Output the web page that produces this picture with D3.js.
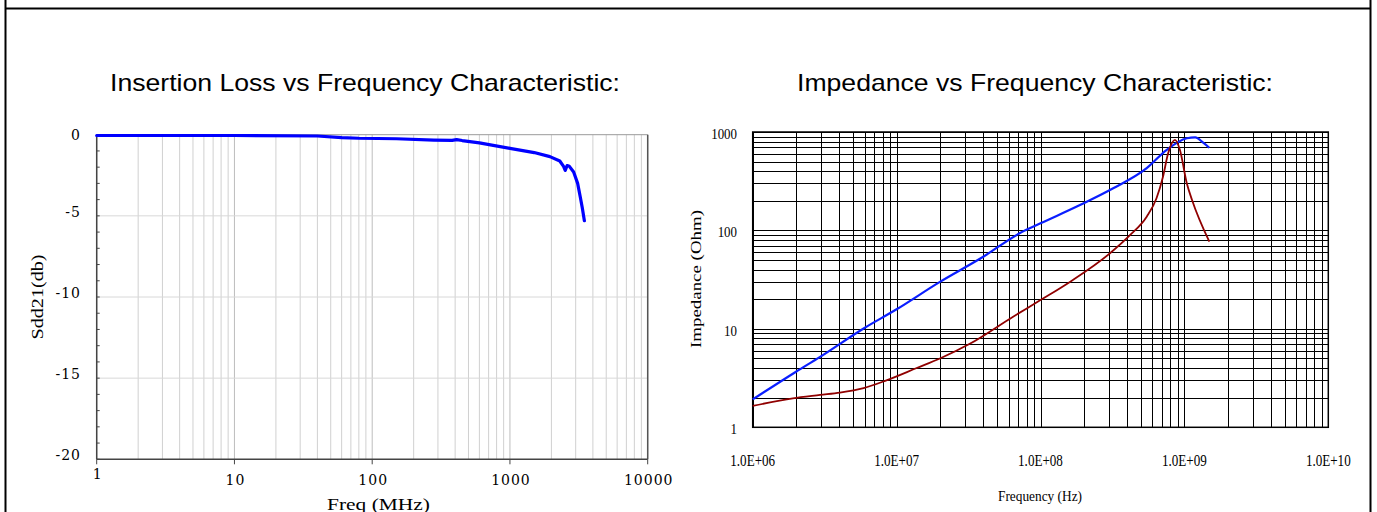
<!DOCTYPE html>
<html>
<head>
<meta charset="utf-8">
<script src="https://cdn.jsdelivr.net/npm/d3@7"></script>
<style>
  body { margin: 0; background: #fff; }
  svg { display: block; }
</style>
</head>
<body>
<script>
// insertion loss (left chart)
var lossFreq = [1, 10, 40, 60, 80, 150, 280, 380, 410, 450, 600, 1000, 1500, 1950, 2300, 2450, 2520, 2600, 2700, 2900, 3100, 3250, 3350, 3470];
var lossDb = [-0.05, -0.05, -0.08, -0.18, -0.22, -0.25, -0.33, -0.35, -0.3, -0.36, -0.5, -0.84, -1.1, -1.35, -1.62, -1.95, -2.2, -1.9, -1.95, -2.3, -3.0, -3.9, -4.5, -5.3];
var lossXTicks = [1, 10, 100, 1000, 10000];
var lossYTicks = [0, -5, -10, -15, -20];

// impedance (right chart)
var zFreq = [1e6, 2e6, 2.94e6, 5.9e6, 1e7, 2e7, 4e7, 7.2e7, 1e8, 1.88e8, 3.2e8, 5.47e8, 7.5e8, 1.04e9, 1.19e9, 1.35e9, 1.49e9];
var zOhm = [1.92, 3.67, 5.2, 10.1, 15.8, 30, 54, 94, 118, 181, 268, 429, 656, 863, 883, 780, 692];
var rFreq = [1e6, 1.9e6, 2.94e6, 4.04e6, 5.9e6, 8.5e6, 1.38e7, 2e7, 3.25e7, 6.45e7, 1e8, 1.6e8, 3.04e8, 4.2e8, 5.47e8, 6.4e8, 7.1e8, 7.7e8, 8.6e8, 9.3e8, 1.04e9, 1.13e9, 1.49e9];
var rOhm = [1.65, 1.97, 2.13, 2.25, 2.5, 3.0, 4.0, 5.0, 7.1, 13.3, 19.6, 30, 58.6, 90, 138, 212, 351, 603, 830, 660, 300, 204, 77];
var zXTicks = [1e6, 1e7, 1e8, 1e9, 1e10];
var zXLabels = ["1.0E+06", "1.0E+07", "1.0E+08", "1.0E+09", "1.0E+10"];
var zYTicks = [1, 10, 100, 1000];

var svg = d3.select("body")
    .append("svg")
    .attr("width", 1377)
    .attr("height", 512);

// page frame
svg.append("line").attr("x1", 5.5).attr("x2", 5.5).attr("y1", 0).attr("y2", 512)
    .attr("stroke", "#000").attr("stroke-width", 2);
svg.append("line").attr("x1", 1370.5).attr("x2", 1370.5).attr("y1", 0).attr("y2", 512)
    .attr("stroke", "#000").attr("stroke-width", 2);
svg.append("line").attr("x1", 5).attr("x2", 1371).attr("y1", 8.5).attr("y2", 8.5)
    .attr("stroke", "#000").attr("stroke-width", 1.8);

// squeeze / stretch a text to k times its natural width
function squeeze(sel, k) {
    sel.each(function () {
        var w = this.getComputedTextLength();
        d3.select(this).attr("textLength", w * k).attr("lengthAdjust", "spacingAndGlyphs");
    });
}

// all minor values of a log domain
function logMinors(lo, hi) {
    var out = [];
    for (var p = Math.log10(lo); p < Math.log10(hi); p++) {
        for (var m = 1; m < 10; m++) out.push(m * Math.pow(10, p));
    }
    out.push(hi);
    return out;
}

// ---------------- left chart ----------------
var L = { left: 96.7, right: 647.7, top: 134.7, bottom: 459.3 };
var x1 = d3.scaleLog().domain([1, 10000]).range([L.left, L.right]);
var y1 = d3.scaleLinear().domain([0, -20]).range([L.top, L.bottom]);
var g1 = svg.append("g");

svg.append("text")
    .attr("x", 110).attr("y", 91)
    .style("font-family", "'Liberation Sans', Arial, sans-serif")
    .style("font-size", "24px")
    .attr("textLength", 510).attr("lengthAdjust", "spacingAndGlyphs")
    .text("Insertion Loss vs Frequency Characteristic:");

g1.selectAll(".vgrid")
    .data(logMinors(1, 10000))
    .enter().append("line")
    .attr("x1", d => x1(d)).attr("x2", d => x1(d))
    .attr("y1", L.top).attr("y2", L.bottom)
    .attr("stroke", d => Number.isInteger(Math.log10(d)) ? "#bdbdbd" : "#d0d0d0")
    .attr("stroke-width", 1);

g1.selectAll(".hgrid")
    .data([-5, -10, -15])
    .enter().append("line")
    .attr("x1", L.left).attr("x2", L.right)
    .attr("y1", d => y1(d)).attr("y2", d => y1(d))
    .attr("stroke", "#d8d8d8");

// frame
g1.append("line").attr("x1", L.left).attr("x2", L.right).attr("y1", L.top).attr("y2", L.top)
    .attr("stroke", "#9a9a9a");
g1.append("line").attr("x1", L.right).attr("x2", L.right).attr("y1", L.top).attr("y2", L.bottom)
    .attr("stroke", "#555").attr("stroke-width", 1.5);
g1.append("line").attr("x1", L.left).attr("x2", L.left).attr("y1", L.top).attr("y2", L.bottom)
    .attr("stroke", "#444").attr("stroke-width", 1.5);
g1.append("line").attr("x1", L.left).attr("x2", L.right).attr("y1", L.bottom).attr("y2", L.bottom)
    .attr("stroke", "#444").attr("stroke-width", 1.5);

// minor y ticks every 1 dB
g1.selectAll(".ytick")
    .data(d3.range(0, -21, -1))
    .enter().append("line")
    .attr("x1", L.left).attr("x2", L.left + 3)
    .attr("y1", d => y1(d)).attr("y2", d => y1(d))
    .attr("stroke", "#444");

g1.selectAll(".xtick")
    .data(lossXTicks)
    .enter().append("line")
    .attr("x1", d => x1(d)).attr("x2", d => x1(d))
    .attr("y1", L.bottom).attr("y2", L.bottom + 5)
    .attr("stroke", "#444");

g1.selectAll(".ylab")
    .data(lossYTicks)
    .enter().append("text")
    .attr("x", 81).attr("y", d => y1(d) + (d === 0 ? 5 : 1))
    .attr("text-anchor", "end")
    .style("font-family", "'DejaVu Serif', 'Liberation Serif', serif")
    .style("font-size", "14px")
    .style("letter-spacing", "1px")
    .text(d => d);

g1.selectAll(".xlab")
    .data(lossXTicks)
    .enter().append("text")
    .attr("x", d => x1(d) + 1).attr("y", (d, i) => i === 0 ? 479 : 485)
    .attr("text-anchor", "middle")
    .style("font-family", "'DejaVu Serif', 'Liberation Serif', serif")
    .style("font-size", "14px")
    .style("letter-spacing", "1px")
    .text(d => d);

svg.append("text")
    .attr("x", 327).attr("y", 510)
    .style("font-family", "'Liberation Serif', 'Times New Roman', serif")
    .style("font-size", "17px")
    .attr("textLength", 103).attr("lengthAdjust", "spacingAndGlyphs")
    .text("Freq (MHz)");

svg.append("text")
    .attr("transform", "translate(43,297) rotate(-90)")
    .attr("text-anchor", "middle")
    .style("font-family", "'Liberation Serif', 'Times New Roman', serif")
    .style("font-size", "16px")
    .attr("textLength", 85).attr("lengthAdjust", "spacingAndGlyphs")
    .text("Sdd21(db)");

var lossLine = d3.line()
    .x(d => x1(d[0]))
    .y(d => y1(d[1]));

g1.append("path")
    .datum(d3.zip(lossFreq, lossDb))
    .attr("d", lossLine)
    .attr("fill", "none")
    .attr("stroke", "#0000ff")
    .attr("stroke-width", 3.2)
    .attr("stroke-linejoin", "round")
    .attr("stroke-linecap", "round");

// ---------------- right chart ----------------
var R = { left: 752.7, right: 1328.3, top: 132, bottom: 427.3 };
var x2 = d3.scaleLog().domain([1e6, 1e10]).range([R.left, R.right]);
var y2 = d3.scaleLog().domain([1, 1000]).range([R.bottom, R.top]);
var g2 = svg.append("g");

svg.append("text")
    .attr("x", 797).attr("y", 91)
    .style("font-family", "'Liberation Sans', Arial, sans-serif")
    .style("font-size", "24px")
    .attr("textLength", 476).attr("lengthAdjust", "spacingAndGlyphs")
    .text("Impedance vs Frequency Characteristic:");

g2.selectAll(".vgrid")
    .data(logMinors(1e6, 1e10))
    .enter().append("line")
    .attr("x1", d => Math.round(x2(d)) + 0.5).attr("x2", d => Math.round(x2(d)) + 0.5)
    .attr("y1", R.top).attr("y2", R.bottom)
    .attr("stroke", "#000").attr("stroke-width", 1);

g2.selectAll(".hgrid")
    .data(logMinors(1, 1000))
    .enter().append("line")
    .attr("x1", R.left).attr("x2", R.right)
    .attr("y1", d => Math.round(y2(d)) + 0.5).attr("y2", d => Math.round(y2(d)) + 0.5)
    .attr("stroke", "#000").attr("stroke-width", 1);

g2.append("rect")
    .attr("x", R.left).attr("y", R.top)
    .attr("width", R.right - R.left).attr("height", R.bottom - R.top)
    .attr("fill", "none").attr("stroke", "#000").attr("stroke-width", 1.5);

g2.selectAll(".ylab")
    .data(zYTicks)
    .enter().append("text")
    .attr("x", 737).attr("y", d => y2(d) + 7)
    .attr("text-anchor", "end")
    .style("font-family", "'Liberation Serif', 'Times New Roman', serif")
    .style("font-size", "15px")
    .text(d => d)
    .call(squeeze, 0.86);

g2.selectAll(".xlab")
    .data(zXTicks)
    .enter().append("text")
    .attr("x", d => x2(d)).attr("y", 466)
    .attr("text-anchor", "middle")
    .style("font-family", "'Liberation Serif', 'Times New Roman', serif")
    .style("font-size", "17px")
    .text((d, i) => zXLabels[i])
    .call(squeeze, 0.77);

svg.append("text")
    .attr("x", 1040).attr("y", 501)
    .attr("text-anchor", "middle")
    .style("font-family", "'Liberation Serif', 'Times New Roman', serif")
    .style("font-size", "15px")
    .attr("textLength", 84).attr("lengthAdjust", "spacingAndGlyphs")
    .text("Frequency (Hz)");

svg.append("text")
    .attr("transform", "translate(701,279) rotate(-90)")
    .attr("text-anchor", "middle")
    .style("font-family", "'Liberation Serif', 'Times New Roman', serif")
    .style("font-size", "15px")
    .attr("textLength", 138).attr("lengthAdjust", "spacingAndGlyphs")
    .text("Impedance (Ohm)");

var zLine = d3.line()
    .x(d => x2(d[0]))
    .y(d => y2(d[1]))
    .curve(d3.curveMonotoneX);

g2.append("path")
    .datum(d3.zip(zFreq, zOhm))
    .attr("d", zLine)
    .attr("fill", "none")
    .attr("stroke", "#0a1eff")
    .attr("stroke-width", 2.2);

g2.append("path")
    .datum(d3.zip(rFreq, rOhm))
    .attr("d", zLine)
    .attr("fill", "none")
    .attr("stroke", "#900000")
    .attr("stroke-width", 1.8);
</script>
</body>
</html>
